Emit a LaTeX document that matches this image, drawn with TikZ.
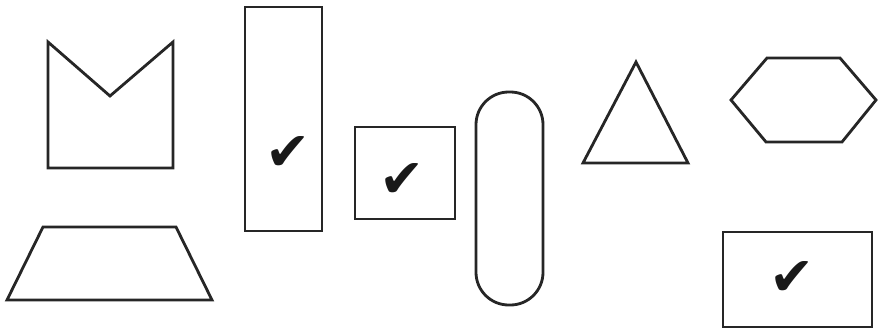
\documentclass[tikz,border=0pt]{standalone}
\usepackage{fontspec}
\newfontfamily\symfont{DejaVu Sans}
\usetikzlibrary{positioning}

\tikzset{
  outline/.style={draw=black!85,line width=2.4pt,line join=miter},
  tick/.style={font=\symfont\fontsize{46}{46}\selectfont,text=black!90,inner sep=0pt}
}

\begin{document}
\begin{tikzpicture}[x=0.3mm,y=-0.3mm]
\useasboundingbox (0,0) rectangle (878,332);
% notched box and trapezoid
\draw[outline] (48,42) -- (110,96) -- (173,42) -- (173,168) -- (48,168) -- cycle;
\draw[outline] (43,227) -- (176,227) -- (212,300) -- (7,300) -- cycle;
% tall box
\draw[outline] (245,7) rectangle (322,231);
\node[tick] (c1) at (288,153) {✔};
% square
\draw[outline] (355,127) rectangle (455,219);
\node[tick] (c2) at (402,180) {✔};
% pill
\draw[outline,rounded corners=9.8mm] (476,92) rectangle (543,305);
% triangle and hexagon
\draw[outline] (636,62) -- (688,163) -- (583,163) -- cycle;
\draw[outline] (731,100) -- (767,58) -- (840,58) -- (876,100) -- (842,142) -- (766,142) -- cycle;
% wide box
\draw[outline] (723,232) rectangle (872,327);
\node[tick] (c3) at (792,278) {✔};
\end{tikzpicture}
\end{document}
